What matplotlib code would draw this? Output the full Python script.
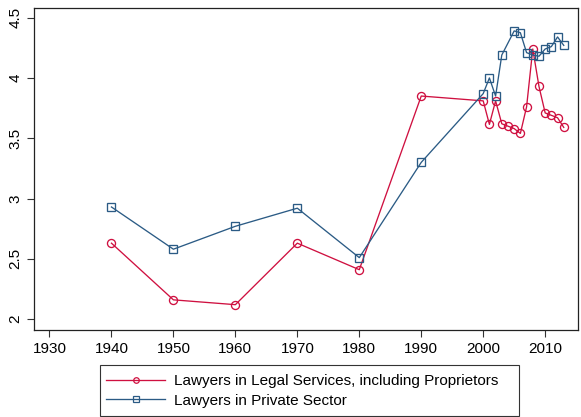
import matplotlib
matplotlib.use("Agg")
import matplotlib.pyplot as plt
from matplotlib.lines import Line2D
from matplotlib.patches import Rectangle

plt.rcParams["font.family"] = ["Liberation Sans", "DejaVu Sans"]

# ---------- Data ----------
legal_years = [1940, 1950, 1960, 1970, 1980, 1990, 2000, 2001, 2002, 2003, 2004,
               2005, 2006, 2007, 2008, 2009, 2010, 2011, 2012, 2013]
legal_vals = [2.63, 2.16, 2.12, 2.63, 2.41, 3.85, 3.81, 3.615, 3.81, 3.62, 3.60,
              3.58, 3.54, 3.76, 4.24, 3.93, 3.71, 3.69, 3.67, 3.59]

private_years = [1940, 1950, 1960, 1970, 1980, 1990, 2000, 2001, 2002, 2003,
                 2005, 2006, 2007, 2008, 2009, 2010, 2011, 2012, 2013]
private_vals = [2.93, 2.58, 2.77, 2.92, 2.51, 3.30, 3.87, 4.00, 3.85, 4.19,
                4.39, 4.375, 4.21, 4.19, 4.18, 4.24, 4.26, 4.34, 4.27]

legal_label = "Lawyers in Legal Services, including Proprietors"
private_label = "Lawyers in Private Sector"

x_ticks = list(range(1930, 2011, 10))
y_ticks = [2, 2.5, 3, 3.5, 4, 4.5]
y_labels = ["2", "2.5", "3", "3.5", "4", "4.5"]

RED = "#cf1040"
BLUE = "#2b5b85"
W, H = 581, 417

fig = plt.figure(figsize=(W / 100, H / 100), dpi=100)
ax = fig.add_axes([34 / W, 1 - 330 / H, (578 - 34) / W, (330 - 8) / H])

ax.plot(legal_years, legal_vals, color=RED, lw=0.95, marker="o", ms=5.8,
        mfc="none", mec=RED, mew=0.95)
ax.plot(private_years, private_vals, color=BLUE, lw=0.95, marker="s", ms=5.6,
        mfc="none", mec=BLUE, mew=0.95)

ax.set_xlim(1927.5, 2015.3)
ax.set_ylim(1.91, 4.58)
ax.set_xticks(x_ticks)
ax.set_xticklabels([str(t) for t in x_ticks], fontsize=11)
ax.set_yticks(y_ticks)
ax.set_yticklabels(y_labels, fontsize=11, rotation=90, va="center")
ax.tick_params(length=5, width=0.8, color="#333333")

for s in ax.spines.values():
    s.set_linewidth(0.9)
    s.set_color("#222222")

# legend: frame drawn separately so the padding matches
handles = [
    Line2D([], [], color=RED, lw=0.95, marker="o", ms=4, mfc="none", mec=RED, mew=0.9),
    Line2D([], [], color=BLUE, lw=0.95, marker="s", ms=4, mfc="none", mec=BLUE, mew=0.9),
]
fig.legend(handles, [legal_label, private_label], loc="center left",
           bbox_to_anchor=(106.5 / W, 1 - 391 / H), fontsize=11, frameon=False,
           handlelength=3.8, handletextpad=0.62, borderpad=0, borderaxespad=0,
           labelspacing=0.36)
fig.patches.append(Rectangle((100 / W, 1 - 416 / H), 419 / W, 51 / H,
                             transform=fig.transFigure, fill=False,
                             edgecolor="#333333", lw=0.8))

fig.savefig("out.png", dpi=100)
